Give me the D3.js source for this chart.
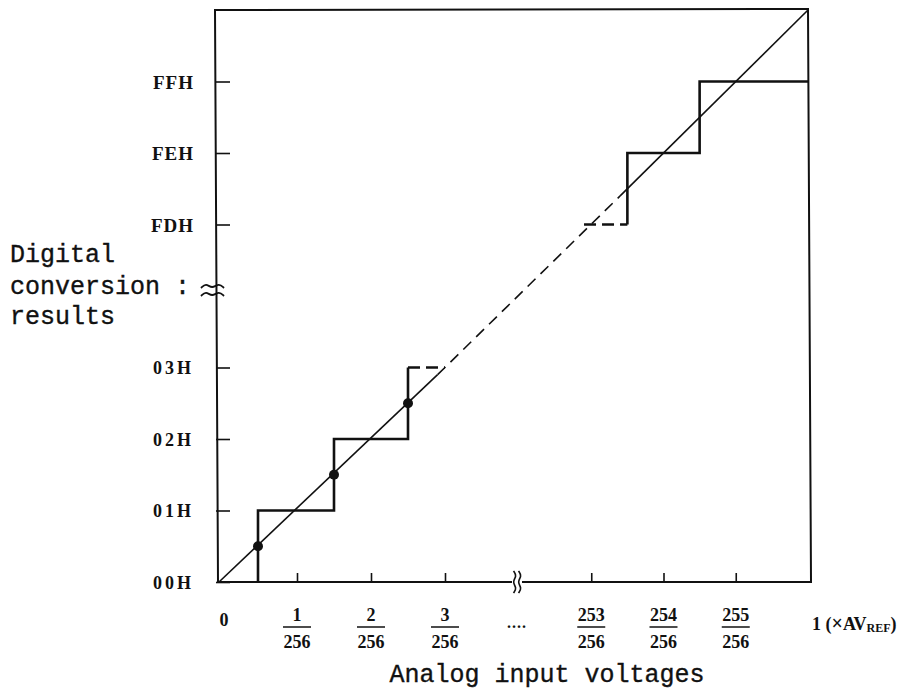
<!DOCTYPE html>
<html>
<head>
<meta charset="utf-8">
<script src="https://cdn.jsdelivr.net/npm/d3@7"></script>
<style>
  body { margin: 0; background: #fff; }
  svg { display: block; }
  .lbl { font-family: "Liberation Serif", serif; font-weight: bold; fill: #111; }
  .mono { font-family: "Liberation Mono", "DejaVu Sans Mono", monospace; fill: #111; stroke: #111; stroke-width: 0.35px; }
</style>
</head>
<body>
<svg id="chart" width="918" height="695"></svg>
<script>
"use strict";

// codes on the vertical axis (in LSB units) and their labels
const yTickValues = [0, 1, 2, 3, 253, 254, 255];
const yTickLabels = ["00H", "01H", "02H", "03H", "FDH", "FEH", "FFH"];

// analog input ticks (in 1/256 of AVREF)
const xTickValues = [1, 2, 3, 253, 254, 255];
const xTickNumerators = ["1", "2", "3", "253", "254", "255"];
const xTickDenominator = "256";

// conversion staircase, solid and dashed parts
const stepLow = [[0.5, 0], [0.5, 1], [1.5, 1], [1.5, 2], [2.5, 2], [2.5, 3]];
const stepLowDash = [[2.5, 3], [3, 3]];
const stepHighDash = [[252.9, 253], [253.5, 253]];
const stepHigh = [[253.5, 253], [253.5, 254], [254.5, 254], [254.5, 255], [256, 255]];

// ideal line: solid near both ends, dashed across the break
const idealSolidLow = [[0, 0], [2.9, 2.9]];
const idealDash = [[2.9, 2.9], [253.4, 253.4]];
const idealSolidHigh = [[253.4, 253.4], [256, 256]];

// sample points on the ideal line
const dotValues = [0.5, 1.5, 2.5];

const svg = d3.select("#chart");

// broken scales: the middle of the range is squeezed to one point
const x = d3.scaleLinear()
    .domain([0, 1, 4, 252, 256])
    .range([219, 297, 519, 519, 808]);

const y = d3.scaleLinear()
    .domain([0, 4, 252, 256])
    .range([582, 296, 296, 10]);

const line = d3.line()
    .x(d => x(d[0]))
    .y(d => y(d[1]));

// frame
svg.append("path")
    .attr("d", `M${x(0) - 4},${y(256)}L${x(256)},${y(256) - 1}L${x(256) + 3},${y(0)}L${x(0) - 1},${y(0)}Z`)
    .attr("fill", "none")
    .attr("stroke", "#111")
    .attr("stroke-width", 2);

// y axis ticks pointing inward
const yAxis = svg.append("g")
    .attr("transform", `translate(${x(0) - 3},0)`)
    .call(d3.axisLeft(y)
        .tickValues(yTickValues)
        .tickSizeInner(-14)
        .tickSizeOuter(0)
        .tickPadding(22)
        .tickFormat((d, i) => yTickLabels[i]));
yAxis.select(".domain").remove();
yAxis.selectAll("line").attr("stroke", "#111").attr("stroke-width", 1.6);
yAxis.selectAll("text")
    .attr("class", "lbl")
    .attr("font-size", (d, i) => i < 4 ? 18 : 19)
    .attr("letter-spacing", (d, i) => i < 4 ? "3px" : "1px")
    .attr("dy", "0.35em");

// x axis ticks pointing up
const xAxis = svg.append("g")
    .attr("transform", `translate(0,${y(0)})`)
    .call(d3.axisBottom(x)
        .tickValues(xTickValues)
        .tickSizeInner(-9)
        .tickSizeOuter(0)
        .tickFormat(""));
xAxis.select(".domain").remove();
xAxis.selectAll("line").attr("stroke", "#111").attr("stroke-width", 1.6);

// fraction labels
const frac = svg.append("g").selectAll("g")
    .data(xTickValues)
    .join("g")
    .attr("transform", d => `translate(${x(d)},0)`);
frac.append("text")
    .attr("class", "lbl")
    .attr("font-size", 18)
    .attr("text-anchor", "middle")
    .attr("y", 621)
    .text((d, i) => xTickNumerators[i]);
frac.append("line")
    .attr("x1", -14).attr("x2", 14)
    .attr("y1", 627).attr("y2", 627)
    .attr("stroke", "#111")
    .attr("stroke-width", 1.5);
frac.append("text")
    .attr("class", "lbl")
    .attr("font-size", 18)
    .attr("text-anchor", "middle")
    .attr("y", 648)
    .text(xTickDenominator);

svg.append("text")
    .attr("class", "lbl")
    .attr("font-size", 18)
    .attr("text-anchor", "middle")
    .attr("x", x(0) + 5)
    .attr("y", 626)
    .text("0");

svg.append("text")
    .attr("class", "lbl")
    .attr("font-size", 16)
    .attr("x", 507)
    .attr("y", 628)
    .attr("letter-spacing", "1px")
    .text("....");

const ref = svg.append("text")
    .attr("class", "lbl")
    .attr("font-size", 18)
    .attr("font-weight", "normal")
    .attr("x", 812)
    .attr("y", 630);
ref.append("tspan").text("1 (");
ref.append("tspan").attr("font-size", 20).text("×");
ref.append("tspan").text("AV");
ref.append("tspan").attr("font-size", 12).attr("font-weight", "bold").attr("dy", 2).text("REF");
ref.append("tspan").attr("dy", -2).text(")");

// axis titles
const yTitle = svg.append("text")
    .attr("class", "mono")
    .attr("font-size", 25)
    .attr("x", 10);
yTitle.append("tspan").attr("x", 10).attr("y", 262).text("Digital");
yTitle.append("tspan").attr("x", 10).attr("y", 294).text("conversion :");
yTitle.append("tspan").attr("x", 10).attr("y", 324).text("results");

svg.append("text")
    .attr("class", "mono")
    .attr("font-size", 25)
    .attr("text-anchor", "middle")
    .attr("x", 547)
    .attr("y", 682)
    .text("Analog input voltages");

// break marks
const wave = d3.line().curve(d3.curveBasis);
[-4, 4].forEach(off => {
    const yb = 290 + off;
    svg.append("path")
        .attr("d", wave([[201, yb + 2], [206, yb - 3], [212, yb + 3], [219, yb - 3], [224, yb + 2]]))
        .attr("fill", "none")
        .attr("stroke", "#111")
        .attr("stroke-width", 1.8);
});
svg.append("rect")
    .attr("x", 512).attr("y", 576)
    .attr("width", 10).attr("height", 12)
    .attr("fill", "#fff");
[-2.5, 2.5].forEach(off => {
    const xb = x(4) - 2 + off;
    svg.append("path")
        .attr("d", wave([[xb - 1, 571], [xb + 2.5, 576], [xb - 2.5, 582], [xb + 2.5, 588], [xb - 1, 593]]))
        .attr("fill", "none")
        .attr("stroke", "#111")
        .attr("stroke-width", 1.6);
});

// ideal conversion line
svg.append("path")
    .attr("d", line(idealSolidLow))
    .attr("fill", "none").attr("stroke", "#111").attr("stroke-width", 1.6);
svg.append("path")
    .attr("d", line(idealDash))
    .attr("fill", "none").attr("stroke", "#111").attr("stroke-width", 1.6)
    .attr("stroke-dasharray", "11,7");
svg.append("path")
    .attr("d", line(idealSolidHigh))
    .attr("fill", "none").attr("stroke", "#111").attr("stroke-width", 1.6);

// staircase
[stepLow, stepHigh].forEach(pts => {
    svg.append("path")
        .attr("d", line(pts))
        .attr("fill", "none")
        .attr("stroke", "#111")
        .attr("stroke-width", 2.6);
});
[stepLowDash, stepHighDash].forEach(pts => {
    svg.append("path")
        .attr("d", line(pts))
        .attr("fill", "none")
        .attr("stroke", "#111")
        .attr("stroke-width", 2.6)
        .attr("stroke-dasharray", "12,6");
});

// sample dots
svg.append("g").selectAll("circle")
    .data(dotValues)
    .join("circle")
    .attr("cx", d => x(d))
    .attr("cy", d => y(d))
    .attr("r", 5)
    .attr("fill", "#111");
</script>
</body>
</html>
